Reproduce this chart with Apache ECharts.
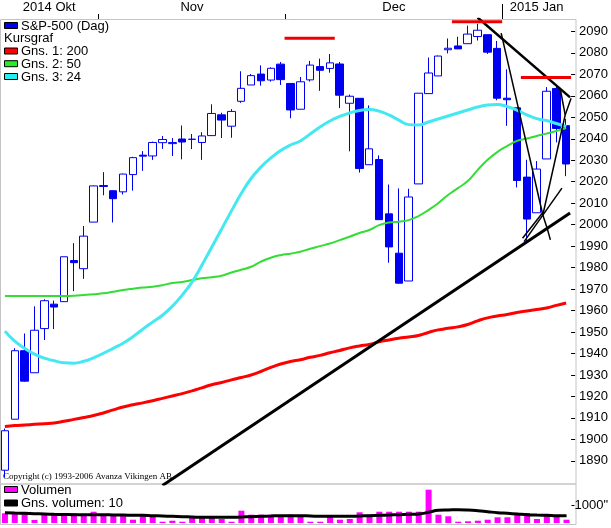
<!DOCTYPE html>
<html>
<head>
<meta charset="utf-8">
<script src="https://cdn.jsdelivr.net/npm/echarts@6/dist/echarts.min.js"></script>
<style>
html,body{margin:0;padding:0;background:#fff;}
#chart{width:611px;height:528px;}
</style>
</head>
<body>
<div id="chart"></div>
<script>
// handelsdagar
var dates = [
  '2014-10-20','2014-10-21','2014-10-22','2014-10-23','2014-10-24','2014-10-27','2014-10-28','2014-10-29','2014-10-30','2014-10-31',
  '2014-11-03','2014-11-04','2014-11-05','2014-11-06','2014-11-07','2014-11-10','2014-11-11','2014-11-12','2014-11-13','2014-11-14',
  '2014-11-17','2014-11-18','2014-11-19','2014-11-20','2014-11-21','2014-11-24','2014-11-25','2014-11-26','2014-11-28',
  '2014-12-01','2014-12-02','2014-12-03','2014-12-04','2014-12-05','2014-12-08','2014-12-09','2014-12-10','2014-12-11','2014-12-12',
  '2014-12-15','2014-12-16','2014-12-17','2014-12-18','2014-12-19','2014-12-22','2014-12-23','2014-12-24','2014-12-26','2014-12-29',
  '2014-12-30','2014-12-31',
  '2015-01-02','2015-01-05','2015-01-06','2015-01-07','2015-01-08','2015-01-09','2015-01-12'
];
// [open, close, low, high]
var ohlc = [
  [1885.62,1904.01,1882.30,1905.03],[1909.38,1941.28,1909.38,1942.45],[1941.29,1927.11,1926.83,1949.31],
  [1931.02,1950.82,1931.02,1961.95],[1951.59,1964.58,1946.27,1965.27],[1962.97,1961.63,1951.37,1964.64],
  [1964.14,1985.05,1964.14,1985.05],[1983.29,1982.30,1969.04,1991.40],[1979.49,1994.65,1974.75,1999.40],
  [2001.20,2018.05,2001.20,2018.19],[2018.21,2017.81,2013.68,2024.46],[2015.81,2012.10,2001.01,2015.98],
  [2015.29,2023.57,2014.07,2023.77],[2023.33,2031.21,2015.86,2031.61],[2032.36,2031.92,2025.07,2034.26],
  [2032.01,2038.26,2030.17,2038.70],[2038.20,2039.68,2035.28,2041.28],[2037.75,2038.25,2031.95,2040.33],
  [2039.90,2038.50,2030.44,2046.18],[2039.74,2039.82,2035.20,2042.22],[2038.29,2041.32,2030.20,2043.07],
  [2041.48,2051.80,2041.48,2056.08],[2051.16,2048.72,2040.37,2052.14],[2045.87,2052.75,2040.49,2053.84],
  [2057.46,2063.50,2056.75,2071.46],[2065.07,2069.41,2065.07,2070.17],[2070.15,2067.03,2064.75,2074.21],
  [2067.36,2072.83,2066.62,2073.29],[2074.78,2067.56,2065.06,2075.76],[2065.78,2053.44,2049.57,2065.78],
  [2053.77,2066.55,2053.77,2068.77],[2067.45,2074.33,2066.65,2076.28],[2073.64,2071.92,2062.34,2077.34],
  [2072.78,2075.37,2070.81,2079.47],[2074.84,2060.31,2054.27,2075.78],[2056.55,2059.82,2034.17,2060.60],
  [2058.86,2026.14,2024.26,2058.86],[2027.92,2035.33,2027.92,2055.53],[2030.36,2002.33,2002.33,2032.25],
  [2005.03,1989.63,1982.26,2018.69],[1986.71,1972.74,1972.56,2016.89],[1973.77,2012.89,1973.77,2016.75],
  [2018.98,2061.23,2018.98,2061.23],[2061.04,2070.65,2061.03,2077.85],[2069.28,2078.54,2069.28,2078.76],
  [2081.48,2082.17,2079.77,2086.73],[2083.25,2081.88,2081.86,2087.56],[2084.30,2088.77,2084.30,2092.70],
  [2087.63,2090.57,2085.75,2093.55],[2088.49,2080.35,2079.53,2088.49],[2082.11,2058.90,2057.94,2085.58],
  [2058.90,2058.20,2046.04,2072.36],[2054.44,2020.58,2017.34,2054.44],[2022.15,2002.61,1992.44,2030.25],
  [2005.55,2025.90,2005.55,2029.61],[2030.61,2062.14,2030.61,2064.08],[2063.45,2044.81,2038.33,2064.43],
  [2046.13,2028.26,2022.58,2049.30]
];
var ma200 = [1906.0,1906.4,1906.7,1907.0,1907.3,1907.6,1908.4,1909.3,1910.2,1911.1,
  1912.3,1913.7,1915.1,1916.1,1917.0,1918.0,1919.1,1920.2,1921.3,1922.6,
  1924.0,1925.4,1926.5,1927.7,1928.8,1930.0,1931.6,1933.5,1935.1,1936.3,
  1937.1,1938.2,1939.1,1940.3,1941.4,1942.6,1943.5,1944.2,1945.4,1946.3,
  1947.1,1947.7,1948.4,1949.8,1951.0,1951.7,1952.4,1953.5,1955.2,1956.6,
  1957.5,1958.2,1959.1,1959.8,1960.5,1961.2,1962.4,1963.5];
var ma50 = [1966.8,1966.8,1966.8,1966.8,1966.8,1966.8,1966.8,1966.9,1967.2,1967.6,
  1968.0,1968.8,1969.6,1970.2,1970.7,1971.1,1971.8,1972.8,1973.3,1974.2,
  1975.0,1975.5,1976.2,1977.7,1979.0,1980.4,1982.8,1984.6,1985.8,1986.5,
  1987.4,1988.8,1990.0,1991.2,1992.8,1994.4,1996.1,1997.5,1999.8,2001.0,
  2001.4,2002.1,2004.0,2006.8,2010.0,2013.8,2017.0,2020.3,2025.4,2030.1,
  2033.8,2036.6,2039.0,2040.1,2041.3,2042.4,2043.6,2045.0];
var ma24 = [1950.4,1945.7,1942.4,1939.7,1937.8,1936.6,1935.7,1935.5,1936.4,1938.0,
  1940.1,1942.4,1944.8,1947.8,1951.3,1954.6,1957.8,1962.0,1967.2,1973.2,
  1981.1,1989.5,1997.9,2006.3,2014.5,2021.5,2026.8,2031.0,2034.5,2037.1,
  2039.0,2042.2,2045.5,2048.3,2050.4,2052.0,2053.2,2053.6,2052.9,2051.1,
  2048.7,2046.6,2046.4,2047.8,2049.2,2050.6,2052.0,2053.4,2054.8,2055.7,
  2056.0,2055.0,2053.4,2051.1,2049.4,2048.5,2047.1,2045.7];
var volume = [548,548,548,170,469,469,469,548,509,638,
  469,469,469,186,469,379,73,130,73,379,
  379,379,226,73,695,469,469,469,379,469,
  412,73,73,412,186,226,605,469,638,638,
  638,638,638,1881,469,379,73,96,130,186,
  322,322,548,565,226,469,412,186];
var volMa10 = [582,565,548,525,509,492,480,469,469,469,
  469,452,452,435,435,412,396,379,356,339,
  322,322,322,322,339,356,379,396,412,412,
  412,396,379,379,379,379,396,412,435,452,
  469,492,509,605,718,735,751,735,695,638,
  582,548,509,469,452,435,412,412];
var priceTicks = [1890,1900,1910,1920,1930,1940,1950,1960,1970,1980,1990,2000,2010,2020,2030,2040,2050,2060,2070,2080,2090];
var volTicks = [1000];
var monthNames = {'01':'Jan','10':'Okt','11':'Nov','12':'Dec'};

// inritade linjer, [dagindex, kurs]
var thickTrend = [
  [[16,1878.5],[57.4,2005.4]],
  [[48,2096.5],[57.4,2059.3]]
];
var thinTrend = [
  [[50.4,2089.2],[54.63,2004.5]],
  [[54.63,2004.5],[56.9,2051.1],[57.5,2058.9]],
  [[56.4,2063.2],[56.9,2051.1]],
  [[52.73,1992.1],[56.57,2017.0]],
  [[52.57,1993.7],[54.57,2005.3]],
  [[54.63,2004.5],[55.07,1998.3],[55.4,1992.9]]
];
// [från, till, nivå]
var levels = [[28.4,33.5,2086.8],[45.4,50.5,2094.5],[52.4,57.5,2068.5]];

var FONT = "'Liberation Sans Narrow','Liberation Sans',Arial,sans-serif";

// månadsgränser och etiketter
var monthSpans = [], monthBreaks = [], yearBreaks = [];
var start = -0.5;
for (var i = 1; i <= dates.length; i++) {
  if (i == dates.length || dates[i].slice(0,7) != dates[i-1].slice(0,7)) {
    var end = i - 0.5;
    var y = dates[i-1].slice(0,4), m = dates[i-1].slice(5,7);
    var txt = monthNames[m];
    if (monthSpans.length == 0 || m == '01') txt = y + ' ' + txt;
    monthSpans.push({mid:(start+end)/2, text:txt});
    if (i < dates.length) {
      if (dates[i].slice(0,4) != y) yearBreaks.push(end); else monthBreaks.push(end);
    }
    start = end;
  }
}

var chart = echarts.init(document.getElementById('chart'));

var series = [];
series.push({
  type:'candlestick', xAxisIndex:0, yAxisIndex:0, data:ohlc, barWidth:8,
  itemStyle:{color:'#ffffff', color0:'#0000f0', borderColor:'#0000f0', borderColor0:'#0000f0', borderWidth:1}
});
function maLine(data, color, w){
  return {type:'line', xAxisIndex:0, yAxisIndex:0, data:data, symbol:'none', smooth:true,
    lineStyle:{color:color, width:w}, silent:true};
}
series.push(maLine(ma200,'#ff0000',3));
series.push(maLine(ma50,'#33dd33',2));
series.push(maLine(ma24,'#44e8f0',3));
thickTrend.forEach(function(pts, k){
  series.push({type:'line', xAxisIndex:1, yAxisIndex:0, data:pts, symbol:'none',
    lineStyle:{color:'#000', width:k==0?3:2.5}, silent:true});
});
thinTrend.forEach(function(pts){
  series.push({type:'line', xAxisIndex:1, yAxisIndex:0, data:pts, symbol:'none',
    lineStyle:{color:'#000', width:1.5}, silent:true});
});
levels.forEach(function(l){
  series.push({type:'line', xAxisIndex:1, yAxisIndex:0, data:[[l[0],l[2]],[l[1],l[2]]], symbol:'none',
    lineStyle:{color:'#ee0000', width:3}, silent:true});
});
series.push({type:'bar', xAxisIndex:3, yAxisIndex:1, data:volume, barWidth:6, itemStyle:{color:'#ff00ff'}});
series.push({type:'line', xAxisIndex:3, yAxisIndex:1, data:volMa10, symbol:'none', smooth:true,
  lineStyle:{color:'#000', width:3}, silent:true});

function legendItem(y, color, text){
  var g = [];
  if (color) g.push({type:'rect', shape:{x:4.5, y:y-3.5, width:13, height:6}, style:{fill:color, stroke:'#000', lineWidth:1}});
  g.push({type:'text', style:{text:text, x:color?21:4, y:y, font:'13px ' + FONT, fill:'#000', verticalAlign:'middle'}});
  return g;
}
var graphics = [
  {type:'rect', shape:{x:0.5, y:19.5, width:575.5, height:464.5}, style:{fill:null, stroke:'#c4c4c4', lineWidth:1}, z:-1},
  {type:'rect', shape:{x:0.5, y:484, width:575.5, height:40.5}, style:{fill:null, stroke:'#c4c4c4', lineWidth:1}, z:-1},
  {type:'text', style:{text:'Copyright (c) 1993-2006 Avanza Vikingen AB', x:3, y:477, font:'9px "Liberation Serif",serif', fill:'#000', verticalAlign:'middle'}}
];
graphics = graphics
  .concat(legendItem(26,'#0000f0','S&P-500 (Dag)'))
  .concat(legendItem(38.8,null,'Kursgraf'))
  .concat(legendItem(51.5,'#ff0000','Gns. 1: 200'))
  .concat(legendItem(64.2,'#22ee22','Gns. 2: 50'))
  .concat(legendItem(77,'#22eeee','Gns. 3: 24'))
  .concat(legendItem(490,'#ff00ff','Volumen'))
  .concat(legendItem(503.5,'#000000','Gns. volumen: 10'));

var option = {
  animation:false,
  textStyle:{fontFamily:FONT},
  grid:[
    {left:-4, width:580, top:19, height:465},
    {left:-4, width:580, top:486, height:37}
  ],
  xAxis:[
    {type:'category', gridIndex:0, data:dates, boundaryGap:true, show:false},
    {type:'value', gridIndex:0, position:'top', min:-0.5, max:57.5,
      axisLine:{show:false, onZero:false}, splitLine:{show:false},
      axisTick:{show:true, length:5, lineStyle:{color:'#000'}, customValues:monthBreaks},
      axisLabel:{show:true, margin:5, color:'#000', fontSize:13, fontFamily:FONT,
        customValues:monthSpans.map(function(s){return s.mid;}),
        formatter:function(v){
          for (var k=0;k<monthSpans.length;k++) if (Math.abs(monthSpans[k].mid - v) < 1e-6) return monthSpans[k].text;
          return '';
        }}},
    {type:'value', gridIndex:0, position:'top', min:-0.5, max:57.5,
      axisLine:{show:false, onZero:false}, splitLine:{show:false}, axisLabel:{show:false},
      axisTick:{show:true, length:15, lineStyle:{color:'#000'}, customValues:yearBreaks}},
    {type:'category', gridIndex:1, data:dates, boundaryGap:true, show:false, axisLine:{onZero:false}}
  ],
  yAxis:[
    {type:'value', gridIndex:0, position:'right', min:1879.2, max:2095.8, scale:true,
      axisLine:{show:false, onZero:false}, splitLine:{show:false},
      axisTick:{show:true, length:4, lineStyle:{color:'#000'}, customValues:priceTicks},
      axisLabel:{margin:8, color:'#000', fontSize:13, fontFamily:FONT, customValues:priceTicks,
        formatter:function(v){ return String(v); }}},
    {type:'value', gridIndex:1, position:'right', min:0, max:2090,
      axisLine:{show:false, onZero:false}, splitLine:{show:false},
      axisTick:{show:true, length:3, lineStyle:{color:'#000'}, customValues:volTicks},
      axisLabel:{margin:3, color:'#000', fontSize:13, fontFamily:FONT, customValues:volTicks,
        formatter:function(v){ return String(v) + '"'; }}}
  ],
  series:series,
  graphic:graphics
};
chart.setOption(option);
</script>
</body>
</html>
